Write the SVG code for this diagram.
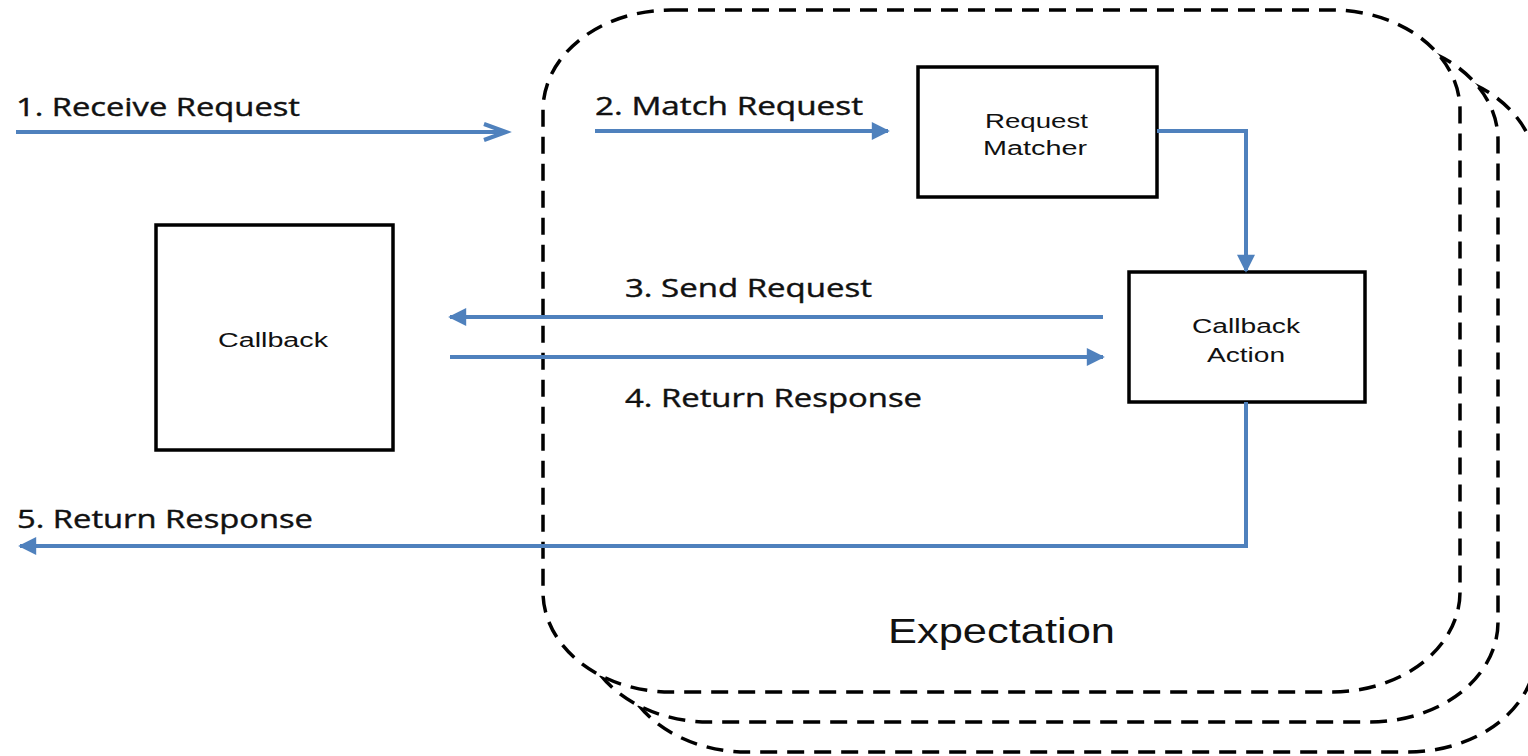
<svg xmlns="http://www.w3.org/2000/svg" width="1528" height="756" viewBox="0 0 1528 756">
  <style>
    .card { fill: #ffffff; stroke: #000000; stroke-width: 3.5; stroke-dasharray: 17 10; }
    .box { fill: #ffffff; stroke: #000000; stroke-width: 3.5; }
    .conn { fill: none; stroke: #4f81bd; stroke-width: 4; }
    .lbl { font-family: "Open Sans", "Liberation Sans", sans-serif; font-size: 25px; fill: #111111; stroke: #111111; stroke-width: 0.4; }
    .btxt { font-family: "Liberation Sans", Arial, sans-serif; font-size: 20px; fill: #111111; }
    .exp { font-family: "Liberation Sans", Arial, sans-serif; font-size: 35px; fill: #111111; }
  </style>
  <defs>
    <marker id="tri" viewBox="0 0 10 10" refX="9" refY="5" markerWidth="5" markerHeight="4.5" markerUnits="strokeWidth" orient="auto">
      <path d="M0,0 L10,5 L0,10 Z" fill="#4f81bd"/>
    </marker>
  </defs>
  <rect width="1528" height="756" fill="#ffffff"/>

  <g id="expectation-stack">
    <rect class="card" x="619" y="70" width="917" height="682" rx="128" ry="100"/>
    <rect class="card" x="581" y="40" width="917" height="682" rx="128" ry="100"/>
    <rect class="card" x="543" y="10" width="917" height="682" rx="128" ry="100"/>
    <text class="exp" x="888" y="643" textLength="227" lengthAdjust="spacingAndGlyphs">Expectation</text>
  </g>

  <g id="callback">
    <rect class="box" x="156" y="225" width="237" height="225"/>
    <text class="btxt" x="218" y="347" textLength="110" lengthAdjust="spacingAndGlyphs">Callback</text>
  </g>

  <g id="request-matcher">
    <rect class="box" x="918" y="67" width="239" height="130"/>
    <text class="btxt" x="985" y="128" textLength="103" lengthAdjust="spacingAndGlyphs">Request</text>
    <text class="btxt" x="983" y="155" textLength="104" lengthAdjust="spacingAndGlyphs">Matcher</text>
  </g>

  <g id="callback-action">
    <rect class="box" x="1129" y="272" width="236" height="130"/>
    <text class="btxt" x="1192" y="333" textLength="108" lengthAdjust="spacingAndGlyphs">Callback</text>
    <text class="btxt" x="1207" y="362" textLength="78" lengthAdjust="spacingAndGlyphs">Action</text>
  </g>

  <g id="connectors">
    <line class="conn" x1="16" y1="132" x2="504" y2="132"/>
    <path class="conn" d="M484,124 L506,132 L484,140" stroke-width="5"/>
    <line class="conn" x1="595" y1="131" x2="888" y2="131" marker-end="url(#tri)"/>
    <path class="conn" d="M1157,131 H1246 V271" marker-end="url(#tri)"/>
    <line class="conn" x1="1103" y1="317" x2="450" y2="317" marker-end="url(#tri)"/>
    <line class="conn" x1="450" y1="357" x2="1103" y2="357" marker-end="url(#tri)"/>
    <path class="conn" d="M1246,402 V546 H20" marker-end="url(#tri)"/>
  </g>

  <g id="labels">
    <text class="lbl" x="16" y="116" textLength="284" lengthAdjust="spacingAndGlyphs">1. Receive Request</text>
    <text class="lbl" x="595" y="115" textLength="268" lengthAdjust="spacingAndGlyphs">2. Match Request</text>
    <text class="lbl" x="625" y="297" textLength="247" lengthAdjust="spacingAndGlyphs">3. Send Request</text>
    <text class="lbl" x="625" y="407" textLength="297" lengthAdjust="spacingAndGlyphs">4. Return Response</text>
    <text class="lbl" x="17" y="528" textLength="296" lengthAdjust="spacingAndGlyphs">5. Return Response</text>
  </g>
</svg>
